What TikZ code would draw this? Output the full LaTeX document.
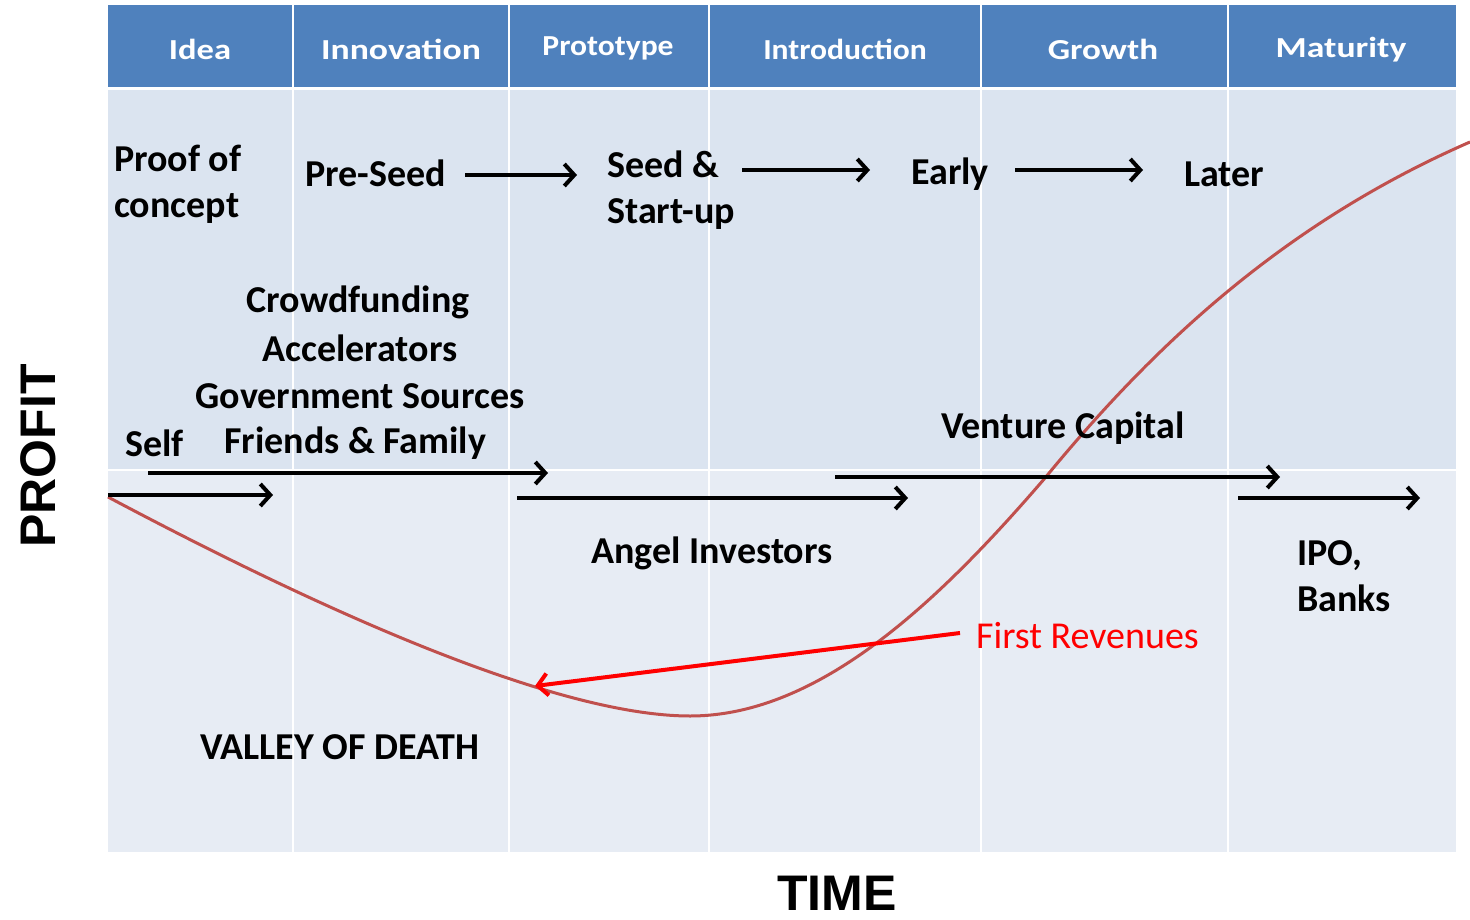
\documentclass[tikz,border=0pt]{standalone}
\usepackage{fontspec}
\setmainfont{Carlito}
\newfontfamily\arialfont{Liberation Sans}
\usetikzlibrary{arrows.meta}
\definecolor{hdr}{HTML}{4F81BD}
\definecolor{upperband}{HTML}{DBE4F0}
\definecolor{lowerband}{HTML}{E7ECF4}
\definecolor{curvecol}{HTML}{C0504D}
\definecolor{revcol}{HTML}{FF0000}
\tikzset{
  hdrtext/.style={text=white, font=\fontsize{29}{30}\selectfont\bfseries, inner sep=0pt},
  lbl/.style={font=\fontsize{38}{46}\selectfont\bfseries, align=left, inner sep=0pt},
  lblc/.style={font=\fontsize{38}{46}\selectfont\bfseries, align=center, inner sep=0pt},
  flow/.style={line width=4pt, -{Straight Barb[length=10pt,width=22pt,line width=4pt]}},
  revflow/.style={revcol, line width=4pt, -{Straight Barb[length=10pt,width=22pt,line width=4pt]}},
  axis/.style={font=\arialfont\fontsize{50}{50}\selectfont\bfseries, inner sep=0pt},
  sep/.style={white, line width=1.5pt},
}
\begin{document}
\begin{tikzpicture}[x=1pt,y=-1pt]
\useasboundingbox (0,0) rectangle (1470,920);
\fill[white] (0,0) rectangle (1470,920);
% bands
\fill[hdr] (108,5) rectangle (1456,87);
\fill[upperband] (108,90) rectangle (1456,470);
\fill[lowerband] (108,470) rectangle (1456,852);
\draw[sep] (108,470) -- (1456,470);
\foreach \x in {293,509,709,981,1228} \draw[sep] (\x,5) -- (\x,852);
% header
\node[hdrtext] (hidea) at (200,49) {\scalebox{1.19}[1]{Idea}};
\node[hdrtext] (hinno) at (401,49) {\scalebox{1.23}[1]{Innovation}};
\node[hdrtext] (hproto) at (608,48) {\scalebox{1.09}[1]{Prototype}};
\node[hdrtext] (hintro) at (845,49) {\scalebox{1.09}[1]{Introduction}};
\node[hdrtext] (hgrowth) at (1103,49) {\scalebox{1.21}[1]{Growth}};
\node[hdrtext] (hmat) at (1341,50) {\scalebox{1.23}[1]{Maturity}};
% curve
\draw[curvecol, line width=3pt] (108,497) .. controls (430,668) and (600,716) .. (690,716)
  .. controls (820,716) and (940,600) .. (1045,478)
  .. controls (1150,350) and (1280,225) .. (1470,142);
% stage labels
\node[lbl, anchor=west] (proof) at (114,184) {Proof of\\concept};
\node[lbl, anchor=west] (preseed) at (305,173) {Pre-Seed};
\node[lbl, anchor=west] (seed) at (607,190) {Seed \&\\Start-up};
\node[lbl, anchor=west] (early) at (911,174) {Early};
\node[lbl, anchor=west] (later) at (1184,174) {Later};
\coordinate (a1s) at (465,175); \coordinate (a1e) at (577,175);
\coordinate (a2s) at (742,170); \coordinate (a2e) at (870,170);
\coordinate (a3s) at (1015,170); \coordinate (a3e) at (1143,170);
\draw[flow] (a1s) -- (a1e);
\draw[flow] (a2s) -- (a2e);
\draw[flow] (a3s) -- (a3e);
% sources
\node[lblc] (crowd) at (358,302) {Crowdfunding};
\node[lblc] (accel) at (360,348) {Accelerators};
\node[lblc] (gov) at (360,396) {Government Sources};
\node[lbl, anchor=west] (self) at (125,443) {Self};
\node[lbl, anchor=west] (ff) at (224,443) {Friends \& Family};
\node[lblc] (vc) at (1063,428) {Venture Capital};
\node[lblc] (angel) at (712,553) {Angel Investors};
\node[lbl, anchor=west] (ipo) at (1297,576) {IPO,\\Banks};
\coordinate (selfs) at (108,495); \coordinate (selfe) at (273,495);
\coordinate (ffs) at (148,473); \coordinate (ffe) at (548,473);
\coordinate (angs) at (517,498); \coordinate (ange) at (908,498);
\coordinate (vcs) at (835,477); \coordinate (vce) at (1280,477);
\coordinate (ipos) at (1238,498); \coordinate (ipoe) at (1420,498);
\draw[flow] (selfs) -- (selfe);
\draw[flow] (ffs) -- (ffe);
\draw[flow] (angs) -- (ange);
\draw[flow] (vcs) -- (vce);
\draw[flow] (ipos) -- (ipoe);
% first revenues
\node[font=\fontsize{38}{46}\selectfont, text=revcol, inner sep=0pt, anchor=west] (rev) at (976,636) {First Revenues};
\coordinate (revs) at (960,633); \coordinate (reve) at (535,686);
\draw[revflow] (revs) -- (reve);
% valley
\node[lbl, anchor=west] (valley) at (200,747) {VALLEY OF DEATH};
% axes
\node[axis, rotate=90] (profit) at (38,456) {PROFIT};
\node[axis] (time) at (837,893) {TIME};
\end{tikzpicture}
\end{document}
